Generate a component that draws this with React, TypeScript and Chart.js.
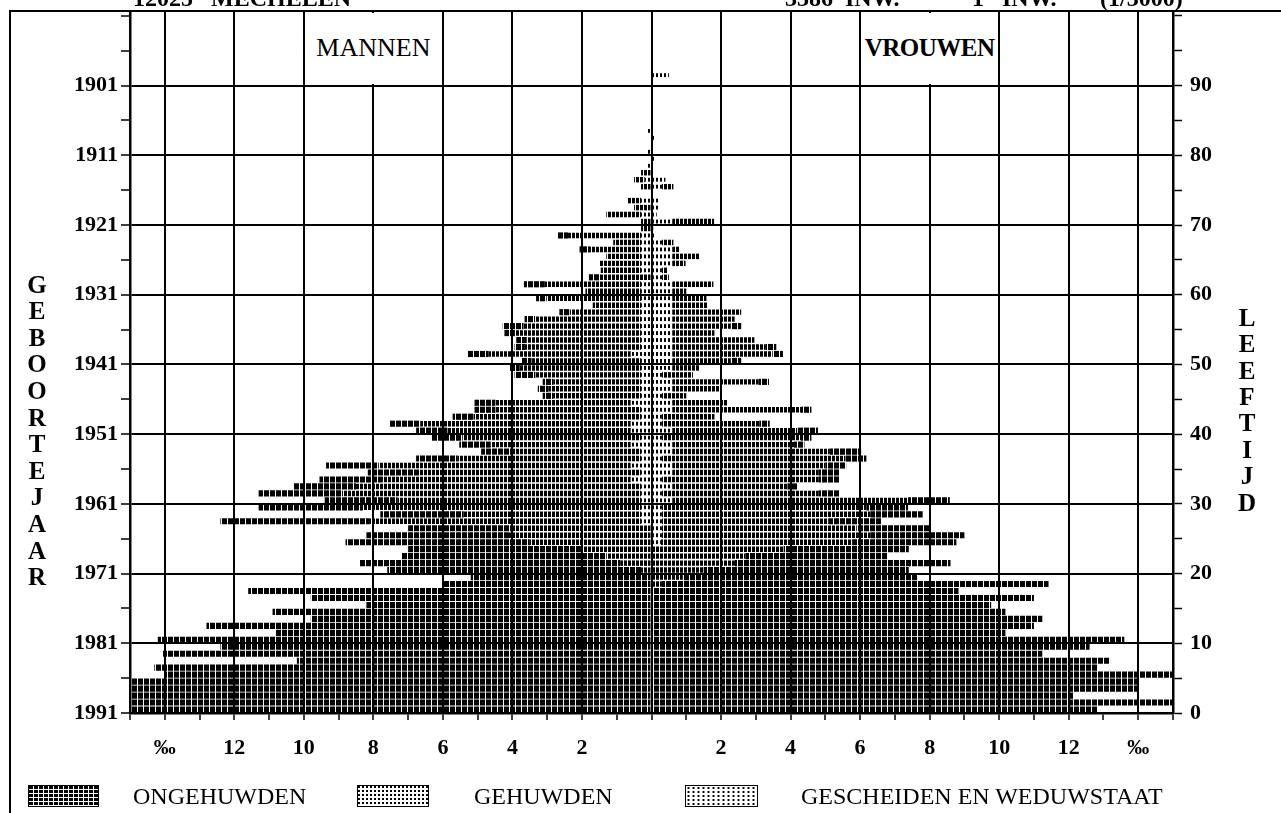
import { useEffect, useRef } from 'react';
import { Chart, registerables } from 'chart.js';

Chart.register(...registerables);

// ---- categories (age in completed years; birth year = 1991 - age) ----
const AGES = [
  0, 1, 2, 3, 4, 5, 6, 7, 8, 9, 10, 11, 12, 13, 14, 15, 16, 17, 18, 19,
  20, 21, 22, 23, 24, 25, 26, 27, 28, 29, 30, 31, 32, 33, 34, 35, 36, 37, 38, 39,
  40, 41, 42, 43, 44, 45, 46, 47, 48, 49, 50, 51, 52, 53, 54, 55, 56, 57, 58, 59,
  60, 61, 62, 63, 64, 65, 66, 67, 68, 69, 70, 71, 72, 73, 74, 75, 76, 77, 78, 79,
  80, 81, 82, 83, 84, 85, 86, 87, 88, 89, 90, 91,
];

// ---- MANNEN (per mille) ----
const MEN_ONG = [
  15, 15, 15, 15, 15, 14.0, 14.3, 10.2, 14.05, 12.4,
  14.2, 10.8, 12.8, 9.8, 10.9, 8.2, 9.8, 11.6, 6.0, 5.2,
  7.3, 7.5, 5.9, 5.0, 5.3, 4.1, 3.0, 4.3, 2.4, 3.0,
  2.1, 2.4, 1.8, 1.8, 1.5, 1.5, 1.2, 0.9, 0.9, 0.9,
  0.9, 0.9, 0.6, 0.6, 0.6, 0.3, 0.3, 0.3, 0.6, 0.3,
  0.3, 0.6, 0.3, 0.3, 0.3, 0.6, 0.3, 0.3, 0, 0.3,
  0, 0.6, 0.3, 0, 0, 0, 0.3, 0, 0.3, 0,
  0, 0, 0, 0, 0, 0, 0, 0, 0, 0,
  0, 0, 0, 0, 0, 0, 0, 0, 0, 0, 0, 0,
];
const MEN_GEH = [
  0, 0, 0, 0, 0, 0, 0, 0, 0, 0,
  0, 0, 0, 0, 0, 0, 0, 0, 0, 0,
  0.3, 0.9, 1.3, 2.0, 3.5, 4.1, 4.0, 7.8, 5.1, 8.0,
  7.0, 8.6, 8.2, 7.15, 6.36, 7.26, 5.27, 3.7, 4.03, 5.14,
  5.27, 6.04, 4.82, 4.19, 3.89, 2.53, 2.67, 2.53, 3.04, 3.49,
  3.15, 4.09, 3.34, 3.29, 3.63, 3.38, 3.05, 2.05, 1.39, 2.72,
  1.6, 2.77, 1.5, 1.16, 1.2, 1.0, 1.47, 0.8, 2.1, 0.3,
  0.3, 1.0, 0.5, 0.4, 0, 0.3, 0.3, 0.3, 0, 0,
  0, 0, 0, 0, 0, 0, 0, 0, 0, 0, 0, 0,
];
const MEN_WED = [
  0, 0, 0, 0, 0, 0, 0, 0, 0, 0,
  0, 0, 0, 0, 0, 0, 0, 0, 0, 0,
  0, 0, 0, 0, 0, 0, 0, 0.3, 0.3, 0.3,
  0.3, 0.3, 0.3, 0.6, 0.3, 0.6, 0.3, 0.3, 0.6, 0.3,
  0.6, 0.6, 0.3, 0.3, 0.6, 0.3, 0.3, 0.3, 0.3, 0.3,
  0.3, 0.6, 0.3, 0.3, 0.3, 0.3, 0.3, 0.3, 0.3, 0.3,
  0.3, 0.3, 0, 0.3, 0.3, 0.3, 0.3, 0.3, 0.3, 0,
  0, 0.3, 0, 0.3, 0, 0, 0.2, 0, 0.15, 0,
  0.15, 0, 0, 0.1, 0, 0, 0, 0, 0, 0, 0, 0,
];

// ---- VROUWEN (per mille) ----
const WOMEN_ONG = [
  12.83, 15, 12.13, 14.0, 14.0, 15, 12.83, 13.19, 11.24, 12.6,
  13.6, 10.18, 11.0, 11.24, 10.18, 9.77, 11.0, 8.83, 11.12, 6.75,
  5.9, 6.2, 4.1, 3.6, 3.0, 2.7, 2.1, 1.5, 1.5, 1.2,
  1.2, 0.6, 0.3, 0.6, 0.6, 0.6, 0.6, 0.9, 0.3, 0.3,
  0.6, 0.3, 0, 0.3, 0, 0, 0, 0.3, 0, 0,
  0.3, 0.3, 0.3, 0, 0, 0.3, 0, 0, 0, 0,
  0, 0, 0, 0, 0, 0, 0, 0, 0, 0,
  0, 0, 0, 0, 0, 0, 0, 0, 0, 0,
  0, 0, 0, 0, 0, 0, 0, 0, 0, 0, 0, 0,
];
const WOMEN_GEH = [
  0, 0, 0, 0, 0, 0, 0, 0, 0, 0,
  0, 0, 0, 0, 0, 0, 0, 0, 0.3, 0.9,
  1.5, 2.4, 2.7, 3.8, 5.5, 6.0, 5.6, 4.8, 6.0, 5.88,
  6.78, 4.51, 3.31, 4.51, 4.21, 4.4, 5.28, 4.53, 3.5, 4.0,
  3.59, 2.8, 1.51, 3.7, 1.6, 0.7, 1.4, 2.48, 0.89, 0.78,
  1.68, 2.88, 2.69, 2.36, 1.21, 1.68, 1.79, 1.98, 1.02, 0.98,
  0.4, 1.18, 0.2, 0.15, 0.38, 0.78, 0.2, 0.33, 0, 0,
  1.2, 0, 0, 0, 0, 0.33, 0, 0, 0, 0,
  0, 0, 0, 0, 0, 0, 0, 0, 0, 0, 0, 0,
];
const WOMEN_WED = [
  0, 0, 0, 0, 0, 0, 0, 0, 0, 0,
  0, 0, 0, 0, 0, 0, 0, 0, 0, 0,
  0, 0, 0, 0, 0.27, 0.3, 0.3, 0.3, 0.3, 0.3,
  0.6, 0.3, 0.6, 0.3, 0.6, 0.6, 0.3, 0.6, 0.6, 0.3,
  0.6, 0.3, 0.3, 0.6, 0.6, 0.3, 0.6, 0.6, 0.3, 0.6,
  0.6, 0.6, 0.6, 0.6, 0.6, 0.6, 0.6, 0.6, 0.6, 0.6,
  0.6, 0.6, 0.3, 0.3, 0.6, 0.6, 0.6, 0.3, 0.1, 0.05,
  0.6, 0.15, 0.2, 0.2, 0, 0.3, 0.4, 0, 0, 0.1,
  0, 0, 0.1, 0, 0, 0, 0, 0, 0, 0, 0, 0.5,
];

// ---- axis ticks / labels ----
const X_TICKS = [
  -15, -14, -13, -12, -11, -10, -9, -8, -7, -6, -5, -4, -3, -2, -1, 0,
  1, 2, 3, 4, 5, 6, 7, 8, 9, 10, 11, 12, 13, 14, 15,
];
const PER_MILLE_LABELS = ['2', '4', '6', '8', '10', '12', '‰']; // at 2,4,...,14
const Y_TICKS = [0, 5, 10, 15, 20, 25, 30, 35, 40, 45, 50, 55, 60, 65, 70, 75, 80, 85, 90, 95, 100];
const BIRTH_YEAR_LABELS = ['1991', '1981', '1971', '1961', '1951', '1941', '1931', '1921', '1911', '1901'];
const AGE_LABELS = ['0', '10', '20', '30', '40', '50', '60', '70', '80', '90'];

const LEGEND_LABELS = ['ONGEHUWDEN', 'GEHUWDEN', 'GESCHEIDEN EN WEDUWSTAAT'];
const SIDE_TITLES = ['MANNEN', 'VROUWEN'];
const LEFT_TITLE = 'GEBOORTEJAAR';
const RIGHT_TITLE = 'LEEFTIJD';
const HEADER_TEXTS = ['12025   MECHELEN', '3386  INW.', '1   INW.', '(1/3000)'];

const SERIF = "'Liberation Serif', 'Times New Roman', 'DejaVu Serif', serif";

const W = 1281;
const H = 813;
const PLOT_L = 130;
const PLOT_R = 1173;
const PLOT_B = 713;
const PLOT_T = 11;
const Y_MAX = 100.7;
const X_MIN = -15;
const X_MAX = 15;
const px = (v: number) => PLOT_L + ((v - X_MIN) / (X_MAX - X_MIN)) * (PLOT_R - PLOT_L);
const py = (a: number) => PLOT_B - (a / Y_MAX) * (PLOT_B - PLOT_T);

const tickFont = { family: SERIF, size: 22, weight: 'bold' as const };

const zeroPad = (s: any) => {
  s.paddingTop = 0;
  s.paddingBottom = 0;
  s.paddingLeft = 0;
  s.paddingRight = 0;
};

export default function App() {
  const ref = useRef<HTMLCanvasElement>(null);

  useEffect(() => {
    const canvas = ref.current!;
    const ctx = canvas.getContext('2d')!;
    const pattern = (w: number, h: number, paint: (g: CanvasRenderingContext2D) => void) => {
      const c = document.createElement('canvas');
      c.width = w;
      c.height = h;
      const g = c.getContext('2d')!;
      g.fillStyle = '#000';
      paint(g);
      return ctx.createPattern(c, 'repeat')!;
    };
    const ongFill = pattern(6, 1, (g) => g.fillRect(0, 0, 5, 1));
    const gehFill = pattern(4, 1, (g) => g.fillRect(0, 0, 3, 1));
    const wedFill = pattern(4, 1, (g) => g.fillRect(0, 0, 2, 1));

    const ds = (label: string, vals: number[], sign: number, fill: CanvasPattern, bp: number) => ({
      label,
      data: AGES.map((a, i) => ({ x: sign * vals[i], y: a + 0.5 })),
      backgroundColor: fill,
      borderWidth: 0,
      barPercentage: bp,
      categoryPercentage: 1,
      stack: 'pyramid',
    });

    const chart = new Chart(canvas, {
      type: 'bar',
      data: {
        datasets: [
          ds('Mannen gescheiden en weduwstaat', MEN_WED, -1, wedFill, 0.55),
          ds('Mannen gehuwden', MEN_GEH, -1, gehFill, 0.78),
          ds('Mannen ongehuwden', MEN_ONG, -1, ongFill, 0.88),
          ds('Vrouwen gescheiden en weduwstaat', WOMEN_WED, 1, wedFill, 0.55),
          ds('Vrouwen gehuwden', WOMEN_GEH, 1, gehFill, 0.78),
          ds('Vrouwen ongehuwden', WOMEN_ONG, 1, ongFill, 0.88),
        ] as any,
      },
      options: {
        indexAxis: 'y',
        animation: false,
        responsive: false,
        devicePixelRatio: 1,
        layout: { padding: { top: PLOT_T, left: 0, right: 0, bottom: 0 } },
        plugins: { legend: { display: false }, tooltip: { enabled: false } },
        scales: {
          x: {
            type: 'linear',
            min: X_MIN,
            max: X_MAX,
            offset: false,
            stacked: true,
            afterBuildTicks: (s: any) => {
              s.ticks = X_TICKS.map((v) => ({ value: v }));
            },
            afterFit: (s: any) => {
              s.height = H - PLOT_B;
              zeroPad(s);
            },
            grid: {
              offset: false,
              color: (c: any) =>
                c.tick && c.tick.value % 2 === 0 && Math.abs(c.tick.value) < 15 ? '#000' : 'rgba(0,0,0,0)',
              lineWidth: 2,
              tickColor: '#000',
              tickLength: 7,
              tickWidth: 1.5,
            },
            border: { display: true, color: '#000', width: 2.5 },
            ticks: {
              autoSkip: false,
              maxRotation: 0,
              padding: 15,
              color: '#000',
              font: tickFont,
              callback: (v: any) => {
                const a = Math.abs(Number(v));
                return a >= 2 && a <= 14 && a % 2 === 0 ? PER_MILLE_LABELS[a / 2 - 1] : '';
              },
            },
          },
          y: {
            type: 'linear',
            position: 'left',
            min: 0,
            max: Y_MAX,
            offset: false,
            afterBuildTicks: (s: any) => {
              s.ticks = Y_TICKS.map((v) => ({ value: v }));
            },
            afterFit: (s: any) => {
              s.width = PLOT_L;
              zeroPad(s);
            },
            grid: {
              offset: false,
              color: (c: any) =>
                c.tick && c.tick.value % 10 === 0 && c.tick.value > 0 && c.tick.value <= 90 ? '#000' : 'rgba(0,0,0,0)',
              lineWidth: 2,
              tickColor: '#000',
              tickLength: 9,
              tickWidth: 1.5,
            },
            border: { display: true, color: '#000', width: 2.5 },
            ticks: {
              autoSkip: false,
              padding: 3,
              color: '#000',
              font: tickFont,
              callback: (v: any) => {
                const n = Number(v);
                return n % 10 === 0 && n <= 90 ? BIRTH_YEAR_LABELS[n / 10] : '';
              },
            },
          },
          y2: {
            type: 'linear',
            position: 'right',
            min: 0,
            max: Y_MAX,
            offset: false,
            afterBuildTicks: (s: any) => {
              s.ticks = Y_TICKS.map((v) => ({ value: v }));
            },
            afterFit: (s: any) => {
              s.width = W - PLOT_R;
              zeroPad(s);
            },
            grid: {
              offset: false,
              drawOnChartArea: false,
              tickColor: '#000',
              tickLength: 9,
              tickWidth: 1.5,
            },
            border: { display: true, color: '#000', width: 2.5 },
            ticks: {
              autoSkip: false,
              padding: 8,
              color: '#000',
              font: tickFont,
              callback: (v: any) => {
                const n = Number(v);
                return n % 10 === 0 && n <= 90 ? AGE_LABELS[n / 10] : '';
              },
            },
          },
        },
      } as any,
    });
    return () => chart.destroy();
  }, []);

  const titleBox = (left: number, right: number, bold: boolean, size: number, text: string) => (
    <div
      style={{
        position: 'absolute',
        left: left + 1.5,
        width: right - left - 3,
        top: PLOT_T + 1.5,
        height: py(90) - PLOT_T - 3,
        background: '#fff',
        display: 'flex',
        alignItems: 'center',
        justifyContent: 'center',
        fontFamily: SERIF,
        fontSize: size,
        fontWeight: bold ? 'bold' : 'normal',
        color: '#000',
        whiteSpace: 'nowrap',
        letterSpacing: bold ? -0.5 : 0,
      }}
    >
      {text}
    </div>
  );

  const vertical = (text: string, centerX: number, firstY: number, step: number) => (
    <div
      style={{
        position: 'absolute',
        left: centerX - 16,
        width: 32,
        top: firstY - step / 2,
        fontFamily: SERIF,
        fontSize: 25,
        fontWeight: 'bold',
        lineHeight: `${step}px`,
        textAlign: 'center',
        color: '#000',
      }}
    >
      {text.split('').map((ch, i) => (
        <div key={i}>{ch}</div>
      ))}
    </div>
  );

  const swatch = (left: number, width: number, bg: string, size: string) => (
    <div
      style={{
        position: 'absolute',
        left,
        top: 785,
        width,
        height: 22,
        border: '1.5px solid #000',
        boxSizing: 'border-box',
        backgroundColor: '#fff',
        backgroundImage: bg,
        backgroundSize: size,
      }}
    />
  );

  const legendText = (left: number, text: string) => (
    <div
      style={{
        position: 'absolute',
        left,
        top: 782,
        fontFamily: SERIF,
        fontSize: 24,
        lineHeight: '28px',
        color: '#000',
        whiteSpace: 'nowrap',
      }}
    >
      {text}
    </div>
  );

  const header = (left: number, text: string) => (
    <div
      style={{
        position: 'absolute',
        left,
        top: -15,
        fontFamily: SERIF,
        fontSize: 24,
        fontWeight: 'bold',
        lineHeight: '26px',
        color: '#000',
        whiteSpace: 'pre',
      }}
    >
      {text}
    </div>
  );

  return (
    <div
      style={{
        position: 'absolute',
        left: 0,
        top: 0,
        width: W,
        height: H,
        overflow: 'hidden',
        background: '#fff',
      }}
    >
      <canvas ref={ref} width={W} height={H} style={{ position: 'absolute', left: 0, top: 0, display: 'block' }} />
      <div
        style={{
          position: 'absolute',
          left: 9,
          top: 10,
          width: W,
          height: H,
          borderTop: '2px solid #000',
          borderLeft: '2px solid #000',
          pointerEvents: 'none',
        }}
      />
      {header(133, HEADER_TEXTS[0])}
      {header(785, HEADER_TEXTS[1])}
      {header(972, HEADER_TEXTS[2])}
      {header(1100, HEADER_TEXTS[3])}
      {titleBox(px(-10), px(-6), false, 26, SIDE_TITLES[0])}
      {titleBox(px(6), px(10), true, 25, SIDE_TITLES[1])}
      {vertical(LEFT_TITLE, 37, 285, 26.6)}
      {vertical(RIGHT_TITLE, 1247, 318, 26.4)}
      {swatch(
        28,
        71,
        'repeating-linear-gradient(0deg, #fff 0 1px, transparent 1px 4px), repeating-linear-gradient(90deg, #000 0 4px, #fff 4px 5px)',
        'auto',
      )}
      {legendText(133, LEGEND_LABELS[0])}
      {swatch(
        357,
        72,
        'repeating-linear-gradient(0deg, #fff 0 2px, transparent 2px 4px), repeating-linear-gradient(90deg, #000 0 2px, #fff 2px 4px)',
        'auto',
      )}
      {legendText(474, LEGEND_LABELS[1])}
      {swatch(685, 73, 'radial-gradient(circle, #000 0.9px, transparent 1.3px)', '5px 4px')}
      {legendText(801, LEGEND_LABELS[2])}
    </div>
  );
}
